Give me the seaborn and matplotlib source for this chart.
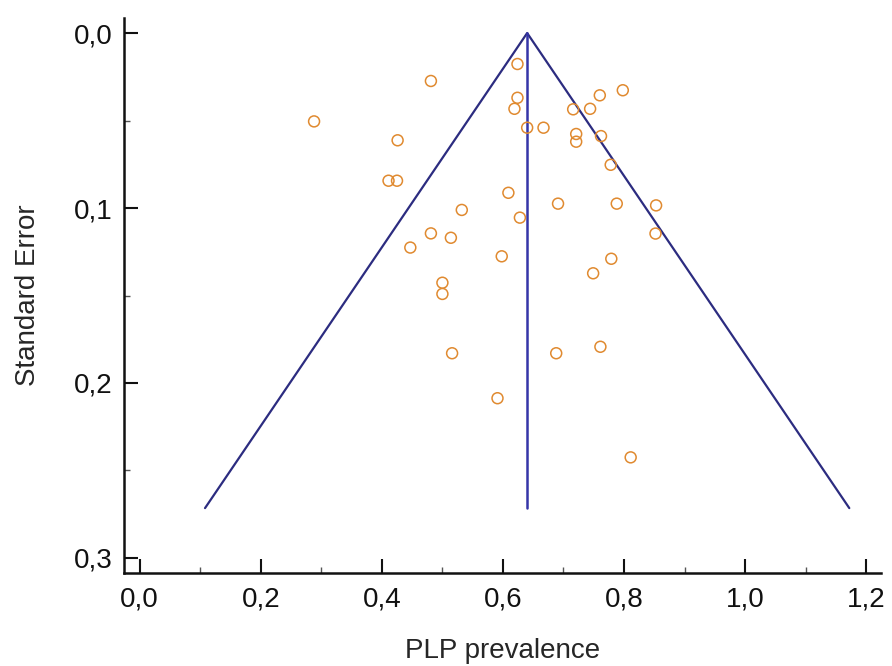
import numpy as np
import pandas as pd
import seaborn as sns
import matplotlib.pyplot as plt
from matplotlib.ticker import MultipleLocator

# Estudios (prevalencia PLP vs error estándar)
prevalencia = [0.624, 0.481, 0.288, 0.624, 0.619, 0.640, 0.667, 0.716, 0.744,
               0.721, 0.721, 0.426, 0.411, 0.425, 0.609, 0.691, 0.532, 0.628,
               0.481, 0.514, 0.447, 0.760, 0.798, 0.762, 0.778, 0.788, 0.853,
               0.852, 0.598, 0.749, 0.500, 0.500, 0.516, 0.688, 0.761, 0.591,
               0.779, 0.811]
error_std = [0.0177, 0.0274, 0.0505, 0.0370, 0.0433, 0.0541, 0.0541, 0.0436,
             0.0433, 0.0577, 0.0621, 0.0613, 0.0844, 0.0844, 0.0913, 0.0975,
             0.1011, 0.1055, 0.1145, 0.1170, 0.1226, 0.0356, 0.0327, 0.0589,
             0.0753, 0.0975, 0.0985, 0.1146, 0.1276, 0.1373, 0.1427, 0.1491,
             0.1830, 0.1830, 0.1793, 0.2087, 0.1290, 0.2425]

# Embudo
estimacion_global = 0.64
se_max = 0.2715

x_ticks = [0.0, 0.2, 0.4, 0.6, 0.8, 1.0, 1.2]
x_labels = ['0,0', '0,2', '0,4', '0,6', '0,8', '1,0', '1,2']
y_ticks = [0.0, 0.1, 0.2, 0.3]
y_labels = ['0,0', '0,1', '0,2', '0,3']

df = pd.DataFrame({'prev': prevalencia, 'se': error_std})

sns.set_style('ticks')
plt.rcParams['font.family'] = ['Liberation Sans', 'DejaVu Sans']

fig = plt.figure(figsize=(8.92, 6.66), dpi=100)
ax = fig.add_axes([0.139, 0.1396, 0.849, 0.8334])

# Líneas del embudo
lim_inf = estimacion_global - 1.96 * se_max
lim_sup = estimacion_global + 1.96 * se_max
embudo = pd.DataFrame({'x': [lim_inf, estimacion_global, lim_sup],
                       'y': [se_max, 0.0, se_max]})
sns.lineplot(data=embudo, x='x', y='y', sort=False, estimator=None, ax=ax,
             color='#2c2c80', linewidth=1.6)
vertical = pd.DataFrame({'x': [estimacion_global, estimacion_global],
                         'y': [0.0, se_max]})
sns.lineplot(data=vertical, x='x', y='y', sort=False, estimator=None, ax=ax,
             color='#3535a8', linewidth=1.8)

sns.scatterplot(data=df, x='prev', y='se', ax=ax, marker='o', s=62,
                color='#e08a30', facecolor='none', edgecolor='#e08a30',
                linewidth=1.1, zorder=3)

ax.set_xlim(-0.026, 1.225)
ax.set_ylim(0.3086, -0.0086)

ax.set_xticks(x_ticks)
ax.set_xticklabels(x_labels)
ax.set_yticks(y_ticks)
ax.set_yticklabels(y_labels)
ax.xaxis.set_minor_locator(MultipleLocator(0.1))
ax.yaxis.set_minor_locator(MultipleLocator(0.05))

ax.tick_params(which='major', direction='in', length=10, width=1.5,
               labelsize=20, colors='#111111')
ax.tick_params(axis='x', which='major', pad=10)
ax.tick_params(axis='y', which='major', pad=8)
ax.tick_params(which='minor', direction='in', length=4, width=1.0,
               color='#555555')

sns.despine(ax=ax)
for s in ['left', 'bottom']:
    ax.spines[s].set_linewidth(1.8)
    ax.spines[s].set_color('#111111')

ax.set_xlabel('PLP prevalence', fontsize=20, labelpad=18)
ax.set_ylabel('Standard Error', fontsize=20, labelpad=24)

fig.savefig('out.png', dpi=100)
